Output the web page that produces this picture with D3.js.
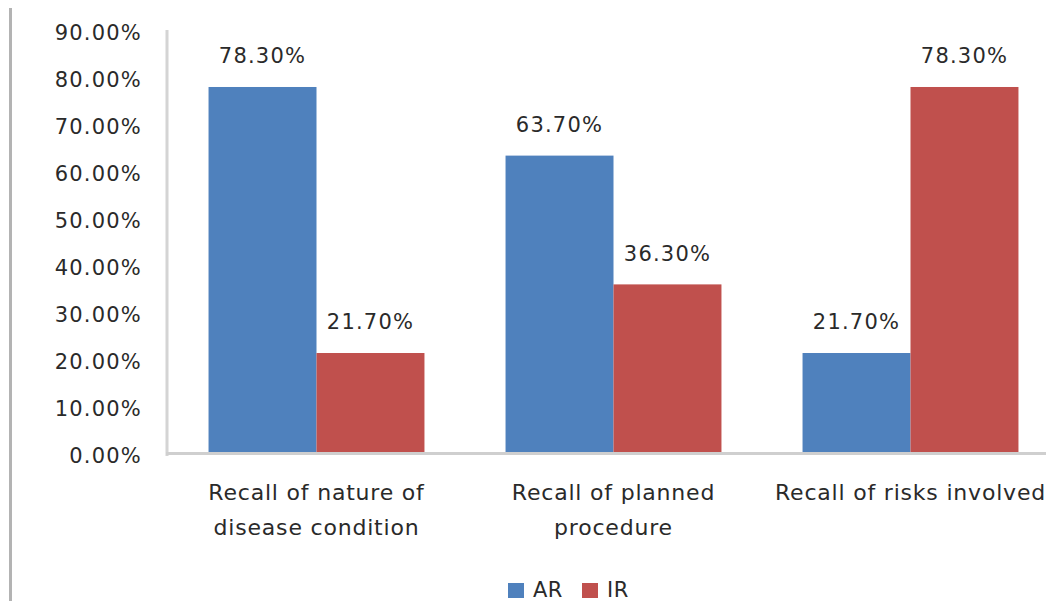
<!DOCTYPE html>
<html>
<head>
<meta charset="utf-8">
<script src="https://cdn.jsdelivr.net/npm/d3@7/dist/d3.min.js"></script>
<style>
  html, body { margin: 0; padding: 0; background: #fff; }
  svg { display: block; }
  text { font-family: "DejaVu Sans", "Liberation Sans", sans-serif; fill: #2a2a2a; }
</style>
</head>
<body>
<svg id="chart" width="1046" height="601"></svg>
<script>
// Recall of informed-consent content, AR vs IR groups
const categories = [
  ["Recall of nature of", "disease condition"],
  ["Recall of planned", "procedure"],
  ["Recall of risks involved"]
];
const seriesNames = ["AR", "IR"];
const arValues = [78.3, 63.7, 21.7];
const irValues = [21.7, 36.3, 78.3];
const yTicks = [0, 10, 20, 30, 40, 50, 60, 70, 80, 90];
const colors = ["#4f81bd", "#c0504d"];

const svg = d3.select("#chart");
const plot = { left: 168, right: 1059, top: 32, bottom: 455 };

const x0 = d3.scaleBand()
  .domain(d3.range(categories.length))
  .range([plot.left, plot.right])
  .paddingInner(0.273)
  .paddingOuter(0.1365);
const x1 = d3.scaleBand()
  .domain(seriesNames)
  .range([0, x0.bandwidth()]);
const y = d3.scaleLinear().domain([0, 90]).range([plot.bottom, plot.top]);

// outer frame edge on the left
svg.append("line")
  .attr("x1", 10.5).attr("x2", 10.5).attr("y1", 8).attr("y2", 601)
  .attr("stroke", "#b3b3b3").attr("stroke-width", 3);

// y axis labels
const yAxis = d3.axisLeft(y).tickValues(yTicks)
  .tickFormat(d => d.toFixed(2) + "%").tickSize(0).tickPadding(26);
const gy = svg.append("g").attr("transform", `translate(${plot.left},0)`).call(yAxis);
gy.select(".domain").remove();
gy.selectAll("text")
  .style("font-size", "21px").style("letter-spacing", "1.2px")
  .attr("fill", "#2a2a2a").attr("dy", "0.35em");

const data = categories.map((c, i) => ({ i, values: [arValues[i], irValues[i]] }));

const groups = svg.append("g").selectAll("g").data(data).join("g")
  .attr("transform", d => `translate(${x0(d.i)},0)`);

groups.selectAll("rect").data(d => d.values.map((v, k) => ({ k, v }))).join("rect")
  .attr("x", d => x1(seriesNames[d.k]))
  .attr("width", x1.bandwidth())
  .attr("y", d => y(d.v))
  .attr("height", d => y(0) - y(d.v))
  .attr("fill", d => colors[d.k]);

groups.selectAll("text.val").data(d => d.values.map((v, k) => ({ k, v }))).join("text")
  .attr("class", "val")
  .attr("x", d => x1(seriesNames[d.k]) + x1.bandwidth() / 2)
  .attr("y", d => y(d.v) - 31)
  .attr("dy", "0.35em")
  .attr("text-anchor", "middle")
  .style("font-size", "21px").style("letter-spacing", "1.2px")
  .text(d => d.v.toFixed(2) + "%");

// axis lines
svg.append("line")
  .attr("x1", plot.left - 1).attr("x2", plot.left - 1).attr("y1", 30).attr("y2", plot.bottom + 1)
  .attr("stroke", "#d4d4d4").attr("stroke-width", 3);
svg.append("line")
  .attr("x1", plot.left - 2).attr("x2", 1046).attr("y1", plot.bottom - 1.5).attr("y2", plot.bottom - 1.5)
  .attr("stroke", "#cfcfcf").attr("stroke-width", 3);

// category labels
const xl = svg.append("g").selectAll("text").data(categories).join("text")
  .attr("x", (d, i) => x0(i) + x0.bandwidth() / 2)
  .attr("y", 492)
  .attr("text-anchor", "middle")
  .style("font-size", "22px").style("letter-spacing", "0.8px");
xl.selectAll("tspan").data(d => d).join("tspan")
  .attr("x", function () { return this.parentNode.getAttribute("x"); })
  .attr("dy", (d, j) => j === 0 ? "0.35em" : "35px")
  .text(d => d);

// legend
const legend = svg.append("g").attr("transform", "translate(508,590)");
const items = [{ name: "AR", x: 0 }, { name: "IR", x: 74 }];
items.forEach((it, k) => {
  legend.append("rect").attr("x", it.x).attr("y", -7).attr("width", 16).attr("height", 15).attr("fill", colors[k]);
  legend.append("text").attr("x", it.x + 25).attr("y", 0).attr("dy", "0.35em")
    .style("font-size", "21px").style("letter-spacing", "0.5px").text(it.name);
});
</script>
</body>
</html>
